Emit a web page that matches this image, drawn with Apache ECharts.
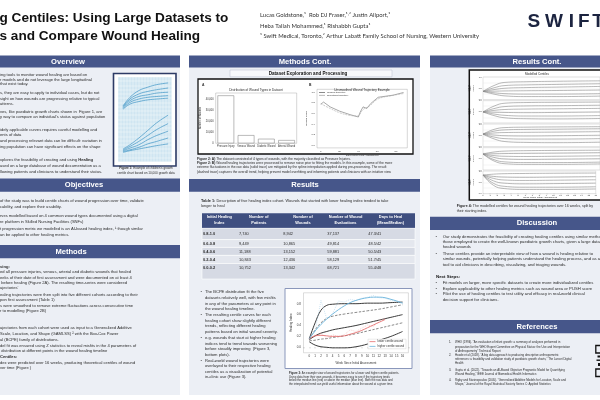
<!DOCTYPE html>
<html><head><meta charset="utf-8">
<script src="https://cdn.jsdelivr.net/npm/echarts@6/dist/echarts.min.js"></script>
<style>html,body{margin:0;padding:0;background:#fff}#c{width:600px;height:400px}</style>
</head><body><div id="c"></div>
<script>
// ---------------- DATA ----------------
// Figure 1 (growth chart example)
const fig1Ages = [1.7, 4, 7, 10, 13, 16.8];
const fig1Upper1 = [66, 76, 84, 88, 91, 93];
const fig1Upper2 = [65, 74, 80, 83, 85, 87];
const fig1Upper3 = [64, 72, 77, 79, 81, 82];
const fig1Upper4 = [63, 70, 74, 76, 77, 78];
const fig1Upper5 = [62, 68, 71, 73, 74, 75];
const fig1Lower1 = [15, 20, 28, 37, 46, 55];
const fig1Lower2 = [14, 18, 24, 31, 38, 45];
const fig1Lower3 = [13, 16, 20, 26, 31, 36];
const fig1Lower4 = [12, 14, 17, 21, 24, 28];
const fig1Lower5 = [11, 13, 15, 17, 19, 21];

// Figure 2A (wound types)
const woundTypes = ['Pressure Injury', 'Venous Wound', 'Diabetic Wound', 'Arterial Wound'];
const woundCounts = [43500, 7400, 4100, 2900];

// Figure 2B (trajectory example)
const trajDays = [0, 3, 10, 20, 31, 40, 42, 45, 49, 53, 61, 77, 88];
const trajOriginal = [0.77, 0.81, 0.72, 0.64, 0.575, 0.53, 0.625, 0.72, 0.69, 0.78, 0.90, 0.94, 0.99];
const trajSmoothDays = [0, 10, 20, 31, 39, 45, 52, 61, 75, 88];
const trajSmoothed = [0.78, 0.69, 0.61, 0.56, 0.55, 0.67, 0.74, 0.87, 0.93, 0.97];

// Table 1
const tblHeaders = ['Initial Healing\nIndex', 'Number of\nPatients', 'Number of\nWounds', 'Number of Wound\nEvaluations', 'Days to Heal\n(Mean/Median)'];
const tblIndex = ['0.8-1.0', '0.6-0.8', '0.4-0.6', '0.2-0.4', '0.0-0.2'];
const tblPatients = ['7,740', '9,449', '11,188', '10,843', '10,752'];
const tblWounds = ['8,942', '10,865', '13,152', '12,436', '13,342'];
const tblEvals = ['37,137', '49,814', '59,881', '58,129', '68,721'];
const tblDays = ['47.3/41', '48.5/42', '50.5/43', '51.7/45', '55.4/48'];

// Figure 3 (example trajectories over centiles)
const fig3Weeks = [0, 1, 2, 3, 4, 6, 8, 10, 12, 14, 16];
const fig3Centile1 = [0.16, 0.45, 0.68, 0.77, 0.79, 0.80, 0.80, 0.81, 0.81, 0.82, 0.83];
const fig3Centile2 = [0.15, 0.32, 0.45, 0.53, 0.57, 0.61, 0.64, 0.67, 0.70, 0.74, 0.78];
const fig3Centile3 = [0.14, 0.21, 0.26, 0.29, 0.32, 0.36, 0.40, 0.45, 0.50, 0.55, 0.60];
const fig3Centile4 = [0.12, 0.13, 0.15, 0.16, 0.18, 0.21, 0.25, 0.30, 0.35, 0.40, 0.45];
const fig3Centile5 = [0.10, 0.04, 0.01, 0.00, -0.01, -0.01, 0.01, 0.06, 0.13, 0.20, 0.29];
const higherWeeks = [0, 1, 2, 3, 4, 5, 6, 7, 8, 9, 10, 11, 12, 13, 14, 15, 16];
const higherSmooth = [0.16, 0.30, 0.42, 0.52, 0.61, 0.69, 0.76, 0.82, 0.86, 0.89, 0.91, 0.92, 0.92, 0.91, 0.88, 0.85, 0.81];
const higherRaw = [0.16, 0.30, 0.86, 0.52, 0.62, 0.85, 0.83, 0.88, 0.86, 0.90, 0.92, 0.95, 0.91, 0.90, 0.86, 0.84, 0.80];
const lowerWeeks = [0, 1, 2, 3, 4, 5, 6, 7, 8, 9, 10, 11, 12, 13];
const lowerSmooth = [0.16, 0.21, 0.22, 0.21, 0.20, 0.20, 0.21, 0.24, 0.27, 0.31, 0.36, 0.41, 0.46, 0.51];
const lowerRaw = [0.16, 0.23, 0.26, 0.165, 0.23, 0.20, 0.23, 0.32, 0.29, 0.35, 0.41, 0.38, 0.50, 0.53];

// Figure 4 (modelled centiles per starting index)
const fig4Weeks = [0, 1.5, 3, 6, 10, 16];
const fig4Cohort1 = [[0.36,0.62,0.76,0.79,0.81,0.83],[0.36,0.52,0.62,0.65,0.67,0.70],[0.36,0.44,0.50,0.53,0.55,0.58],[0.36,0.37,0.38,0.39,0.40,0.42],[0.36,0.30,0.26,0.24,0.24,0.26],[0.36,0.24,0.16,0.13,0.13,0.15]];
const fig4Cohort2 = [[0.49,0.75,0.88,0.91,0.92,0.93],[0.49,0.64,0.73,0.76,0.77,0.79],[0.49,0.56,0.60,0.62,0.63,0.65],[0.49,0.48,0.47,0.46,0.47,0.49],[0.49,0.40,0.34,0.31,0.31,0.33],[0.49,0.33,0.23,0.19,0.18,0.20]];
const fig4Cohort3 = [[0.55,0.76,0.84,0.86,0.87,0.88],[0.55,0.68,0.74,0.76,0.77,0.79],[0.55,0.60,0.62,0.63,0.64,0.66],[0.55,0.51,0.48,0.47,0.48,0.50],[0.55,0.42,0.35,0.33,0.33,0.35],[0.55,0.34,0.22,0.18,0.17,0.19]];
const fig4Cohort4 = [[0.71,0.80,0.84,0.86,0.87,0.88],[0.71,0.72,0.73,0.74,0.75,0.77],[0.71,0.64,0.61,0.60,0.61,0.63],[0.71,0.56,0.49,0.47,0.48,0.50],[0.71,0.46,0.36,0.33,0.33,0.35],[0.71,0.40,0.28,0.25,0.25,0.27]];
const fig4Cohort5 = [[0.82,0.86,0.88,0.89,0.90,0.91],[0.82,0.76,0.73,0.72,0.73,0.75],[0.82,0.67,0.60,0.58,0.59,0.61],[0.82,0.56,0.46,0.43,0.44,0.46],[0.82,0.45,0.32,0.28,0.28,0.30],[0.82,0.36,0.22,0.18,0.18,0.20]];
const fig4Names = ['0.0-0.2', '0.2-0.4', '0.4-0.6', '0.6-0.8', '0.8-1.0'];

// ---------------- TEXT ----------------
const titleLines = ['g Centiles: Using Large Datasets to', 's and Compare Wound Healing'];
const authorLines = ['Lucas Goldstone,\u00b9  Rob DJ Fraser,\u00b9\u02d2\u00b2 Justin Allport,\u00b9', 'Heba Tallah Mohammed,\u00b9 Rishabbh Gupta\u00b9', '\u00b9 Swift Medical, Toronto,\u00b2 Arthur Labatt Family School of Nursing, Western University'];
const overviewText = ['ing tools to monitor wound healing are based on', 'r models and do not leverage the large longitudinal', 'that exist today.', 's, they are easy to apply to individual cases, but do not', 'sight on how wounds are progressing relative to typical', 'atterns.', 'ves, like paediatric growth charts shown in  Figure 1, are', 'y way to compare an individual\u2019s status against population', 'idely applicable curves requires careful modelling and', 'ents of data', 'and processing relevant data can be difficult: variation in', 'ing population can have significant effects on the shape', 'xplores the feasibility of creating and using {b|Healing}', 'ased on a large database of wound documentation as a', 'llowing patients and clinicians to understand their status.'];
const objectivesText = ['of the study was to build centile charts of wound progression over time, validate', 'cability, and explore their usability.', 'rves modelled based on 4 common wound types documented using a digital', 're platform in Skilled Nursing Facilities (SNFs)', 't progression metric we modelled is an AI-based healing index, \u00b9 though similar', 'an be applied to other healing metrics.'];
const methodsText = ['{b|sing:}', 'ed all pressure injuries, venous, arterial and diabetic wounds that healed', 'eeks of their date of first assessment and were documented on at least 4', ' before healing (Figure 2A). The resulting time-series were considered', 'ajectories\u2019', 'ealing trajectories were then split into five different cohorts according to their', 'pon first assessment (Table 1)', 's were smoothed to remove extreme fluctuations across consecutive time', 'r to modelling (Figure 2B)', 'ajectories from each cohort were used as input to a Generalized Additive', 'Scale, Location, and Shape (GAMLSS) \u00b2 with the Box-Cox Power', 'al (BCPE) family of distributions.', 'del fit was ensured using Z statistics to reveal misfits in the 4 parameters of', ' distribution at different points in the wound healing timeline', '{b|Centiles:}', 'dex were predicted over 16 weeks, producing theoretical centiles of wound', 'ver time (Figure )'];
const fig2Caption = ['{b|Figure 2: A)} The dataset consisted of 4 types of wounds, with the majority classified as Pressure Injuries.', '{b|Figure 2: B)} Wound healing trajectories were processed to remove noise prior to fitting the models. In this example, some of the more', 'extreme fluctuations in the raw data (solid trace) are mitigated by the spline interpolation applied during pre-processing. The result', '(dashed trace) captures the overall trend, helping prevent model overfitting and informing patients and clinicians with an intuitive view'];
const tableCaption = ['{b|Table 1:} Description of five healing index cohort. Wounds that started with lower healing index tended to take', 'longer to heal'];
const resultsBullets = [['The BCPE distribution fit the five', 'datasets relatively well, with few misfits', 'in any of the parameters at any point in', 'the wound healing timeline.'], ['The resulting centile curves for each', 'healing cohort show slightly different', 'trends, reflecting different healing', 'patterns based on initial wound severity.'], ['e.g. wounds that start at higher healing', 'indices tend to trend towards worsening', 'before steadily improving  (Figure 3,', 'bottom plots).'], ['Real-world wound trajectories were', 'overlayed to their respective healing', 'centiles as a visualization of potential', 'in-clinic use (Figure 3).']];
const fig3Caption = ['{b|Figure 3:} An example view of wound trajectories for a lower and higher centile patients.', 'Using data from their own wounds, it becomes easy to see if the trajectory tends', 'below the median line (red) or above the median (blue line). Both the raw data and', 'the interpolated trend can yield useful information about the wound at a given time.'];
const fig4Caption = ['{b|Figure 4:} The modelled centiles for wound healing trajectories over 16 weeks, split by', 'their starting index.'];
const discussionBullets = [['Our study demonstrates the feasibility of creating healing centiles using similar methods to', 'those employed to create the well-known paediatric growth charts, given a large dataset of', 'healed wounds'], ['These centiles provide an interpretable view of how a wound is healing relative to', 'similar wounds, potentially helping patients understand the healing process, and as a', 'tool to aid clinicians in describing, visualizing, and triaging wounds.']];
const nextSteps = [['Fit models on larger, more specific datasets to create more individualized centiles'], ['Explore applicability to other healing metrics such as wound area or PUSH score'], ['Pilot the use of healing centiles to test utility and efficacy in real-world clinical', 'decision support for clinicians.']];
const references = [['WHO (1994). \u201cAn evaluation of infant growth: a summary of analyses performed in', 'preparation for the WHO Expert Committee on Physical Status: the Use and Interpretation', 'of Anthropometry\u201d Technical Report'], ['Hoode et al (2018). \u201cA big data approach to producing descriptive anthropometric', 'references: a feasibility and validation study of paediatric growth charts,\u201d The Lancet Digital', 'Health'], ['Gupta et al. (2022). \u201cTowards an AI-Based Objective Prognostic Model for Quantifying', 'Wound Healing,\u201d IEEE Journal of Biomedical Health Informatics'], ['Rigby and Stasinopoulos (2005). \u201cGeneralized Additive Models for Location, Scale and', 'Shape,\u201d Journal of the Royal Statistical Society Series C: Applied Statistics']];

// ---------------- LAYOUT / RENDER ----------------
const SANS = '"Liberation Sans", Arial, Helvetica, sans-serif';
const HEAD = '#46568a';
const PANEL = '#eceff5';
const INK = '#2b2b2b';
const G = [];
function rect(x, y, w, h, fill, o) {
  o = o || {};
  G.push({ type: 'rect', z: o.z !== undefined ? o.z : -10, silent: true, shape: { x, y, width: w, height: h },
    style: { fill: fill || 'none', stroke: o.stroke || null, lineWidth: o.lw || 0 } });
}
function txt(x, y, text, size, o) {
  o = o || {};
  const fam = o.family || SANS;
  const col = o.color || INK;
  const st = { text, fontSize: size, fontFamily: fam, fontWeight: o.bold ? 'bold' : 'normal', fill: col,
    align: o.align || 'left', verticalAlign: 'middle', lineHeight: o.lh || size * 1.2 };
  if (text.indexOf('{b|') >= 0) st.rich = { b: { fontSize: size, fontFamily: fam, fontWeight: 'bold', fill: col } };
  G.push({ type: 'text', x, y, rotation: o.rot || 0, z: 50, silent: true, style: st });
}
function header(x, y, w, h, label, cx) {
  rect(x, y, w, h, HEAD, { z: -9 });
  txt(cx, y + h / 2, label, 7.6, { bold: true, color: '#fff', align: 'center' });
}

// title & authors
txt(-0.5, 18, titleLines[0], 13.6, { bold: true, color: '#111' });
txt(-0.5, 36, titleLines[1], 13.6, { bold: true, color: '#111' });
const authorY = [15, 25.7, 36];
authorLines.forEach((l, i) => txt(260, authorY[i], l, 5.9, { family: 'Lato, "Open Sans", sans-serif', color: '#333' }));
const logoLetters = ['S', 'W', 'I', 'F', 'T'];
const logoX = [533.8, 554, 571.3, 583.8, 598];
logoLetters.forEach((c, i) => txt(logoX[i], 21.5, c, 19, { bold: true, color: '#1c2440', align: 'center' }));

// panels
rect(0, 67, 180, 328, PANEL);
rect(189, 67, 231, 328, PANEL);
rect(430, 67, 175, 328, PANEL);
header(0, 55.5, 180, 12, 'Overview', 68);
header(0, 178.5, 180, 13.3, 'Objectives', 84);
header(0, 245, 180, 13.3, 'Methods', 71);
header(189, 55.5, 231, 12, 'Methods Cont.', 305);
header(189, 179, 231, 12.8, 'Results', 305);
header(430, 55.5, 175, 12, 'Results Cont.', 537);
header(430, 216.7, 175, 13.3, 'Discussion', 537);
header(430, 320, 175, 13.3, 'References', 537);

// left column text
const overviewY = [75, 80, 84.3, 93.3, 99, 104.3, 112.3, 117.3, 130, 135.3, 141, 146.5, 160, 166, 172];
overviewText.forEach((l, i) => txt(0, overviewY[i], l, 4.1));
const objectivesY = [201, 206.5, 216, 222.3, 229.3, 235];
objectivesText.forEach((l, i) => txt(0, objectivesY[i], l, 4.1));
const methodsY = [266.7, 272.3, 277.7, 282.7, 288.3, 295, 300, 306, 311, 328.3, 334.3, 340, 346, 351, 356.7, 362.7, 368.3];
methodsText.forEach((l, i) => txt(0, methodsY[i], l, 4.1));

// Figure 1 box
rect(113.5, 73.5, 62.5, 92.5, '#fff', { stroke: '#2d3b66', lw: 1.6, z: -5 });
txt(146, 168.5, "{b|Figure 1:} Example of children\u2019s growth", 3.1, { align: 'center' });
txt(146, 173, 'centile chart based on 10,000 growth data', 3.1, { align: 'center' });

// middle column: sub header + Figure 2
rect(230, 70, 162, 6.8, '#f7f8fb', { stroke: '#b9bfcf', lw: 0.5, z: -8 });
txt(308, 73.5, 'Dataset Exploration and Processing', 4.6, { bold: true, align: 'center', color: '#111' });
rect(198, 79, 215, 75, '#fff', { stroke: '#111', lw: 1.3, z: -5 });
txt(202, 85, 'A', 3.4, { bold: true });
txt(309, 85, 'B', 3.4, { bold: true });
txt(256, 90.6, 'Distribution of Wound Types in Dataset', 3.1, { align: 'center' });
txt(362, 90.3, 'Unsmoothed Wound Trajectory Example', 3.1, { align: 'center' });
const fig2CapY = [159, 163.3, 167.5, 171.7];
fig2Caption.forEach((l, i) => txt(197, fig2CapY[i], l, 3.3));

// Table 1
const tblCapY = [201, 206];
tableCaption.forEach((l, i) => txt(201, tblCapY[i], l, 3.9));
const colX = [202, 236.7, 281, 325, 366, 415];
const rowY = [228.3, 239.6, 247.4, 255.4, 263.5, 279];
rect(colX[0], 213.3, colX[5] - colX[0], 15, '#3f4f80', { z: -6 });
tblHeaders.forEach((h, j) => {
  const cx = (colX[j] + colX[j + 1]) / 2;
  h.split('\n').forEach((s, k) => txt(cx, 217.4 + k * 5.6, s, 3.9, { bold: true, color: '#fff', align: 'center' }));
});
const tblCols = [tblIndex, tblPatients, tblWounds, tblEvals, tblDays];
tblIndex.forEach((_, r) => {
  const y0 = rowY[r], y1 = rowY[r + 1];
  rect(colX[0], y0, colX[5] - colX[0], y1 - y0, r % 2 === 0 ? '#d6dae4' : '#e4e7ee', { z: -6, stroke: '#ffffff', lw: 0.6 });
  const ty = r === 4 ? y0 + 4.2 : (y0 + y1) / 2 + 0.3;
  tblCols.forEach((col, j) => txt(colX[j] + (j === 0 ? 1 : 2.3), ty, col[r], 3.9, { bold: j === 0 }));
});

// results bullets
let by = 292.3;
resultsBullets.forEach(b => {
  txt(200.5, by, '\u2022', 4.1);
  b.forEach((l, k) => { txt(205, by, l, 4.1); by += 5.55; });
  by += 0.6;
});

// Figure 3 box
rect(285, 288.5, 127, 80, '#fff', { stroke: '#8a97bb', lw: 1, z: -5 });
const fig3CapY = [373.6, 377.1, 380.6, 384.1];
fig3Caption.forEach((l, i) => txt(289, fig3CapY[i], l, 2.85));

// right column: Figure 4
rect(469.3, 70, 140, 130, '#fff', { stroke: '#111', lw: 1.5, z: -5 });
txt(537, 74.6, 'Modelled Centiles', 3, { align: 'center' });
txt(540, 197, 'Week Since Initial Assessment', 2.5, { align: 'center' });
const fig4CapY = [205.8, 210.8];
fig4Caption.forEach((l, i) => txt(456.7, fig4CapY[i], l, 3.6));

// discussion
let dy = 236.7;
discussionBullets.forEach(b => {
  txt(435.5, dy, '\u2022', 4.2);
  b.forEach(l => { txt(442.7, dy, l, 4.2); dy += 5.3; });
  dy += 1.2;
});
txt(436, 276.7, 'Next Steps:', 4.4, { bold: true, color: '#111' });
let ny = 282.7;
nextSteps.forEach(b => {
  txt(435.5, ny, '\u2022', 4.2);
  b.forEach(l => { txt(442.7, ny, l, 4.2); ny += 5.7; });
});

// references
const refY = [342.7, 355.3, 370, 380];
references.forEach((r, i) => {
  txt(449, refY[i], (i + 1) + '.', 2.9);
  r.forEach((l, k) => txt(455, refY[i] + k * 4.1, l, 2.9));
});
// QR code fragment
rect(595.8, 345.5, 6, 7.5, 'none', { stroke: '#111', lw: 1.3, z: 5 });
rect(595.8, 369, 6, 7.5, 'none', { stroke: '#111', lw: 1.3, z: 5 });
rect(597.5, 355.5, 3, 2, '#111', { z: 5 });
rect(596.5, 359.5, 4, 1.4, '#111', { z: 5 });
rect(598, 363, 2.5, 3, '#111', { z: 5 });

// ---------------- CHARTS ----------------
const tiny = (s) => ({ fontSize: s, color: '#333', fontFamily: SANS });
const grids = [], xAxes = [], yAxes = [], series = [];
function pairs(xs, ys) { return xs.map((x, i) => [x, ys[i]]); }

// grid 0: Figure 1
grids.push({ left: 118, top: 77, width: 53.7, height: 84.7, show: true, backgroundColor: '#cfe5f1', borderWidth: 0 });
xAxes.push({ gridIndex: 0, type: 'value', min: 0, max: 18, interval: 1, axisLabel: { show: false }, axisTick: { show: false }, axisLine: { show: false }, splitLine: { lineStyle: { color: '#ffffff', width: 0.4 } } });
yAxes.push({ gridIndex: 0, type: 'value', min: 0, max: 100, interval: 5, axisLabel: { show: false }, axisTick: { show: false }, axisLine: { show: false }, splitLine: { lineStyle: { color: '#ffffff', width: 0.4 } } });
[fig1Upper1, fig1Upper2, fig1Upper3, fig1Upper4, fig1Upper5, fig1Lower1, fig1Lower2, fig1Lower3, fig1Lower4, fig1Lower5].forEach(arr => {
  series.push({ type: 'line', xAxisIndex: 0, yAxisIndex: 0, data: pairs(fig1Ages, arr), smooth: 0.4, showSymbol: false, lineStyle: { color: '#3d93c4', width: 0.7 } });
});

// grid 1: Figure 2A
grids.push({ left: 215.7, top: 93, width: 81, height: 50.3, show: true, borderColor: '#999', borderWidth: 0.4 });
xAxes.push({ gridIndex: 1, type: 'category', data: woundTypes, axisLabel: Object.assign({ interval: 0, margin: 1.6 }, tiny(2.6)), axisTick: { show: false }, axisLine: { show: false } });
yAxes.push({ gridIndex: 1, type: 'value', min: 0, max: 45700, interval: 10000, axisLabel: Object.assign({ margin: 2, showMaxLabel: false }, tiny(2.6)), axisTick: { show: false }, axisLine: { show: false }, splitLine: { show: false },
  name: 'Number of Wounds', nameLocation: 'middle', nameRotate: 90, nameGap: 11, nameTextStyle: tiny(2.6) });
series.push({ type: 'bar', xAxisIndex: 1, yAxisIndex: 1, data: woundCounts, barCategoryGap: '18%', itemStyle: { color: '#ffffff', borderColor: '#777', borderWidth: 0.5 } });

// grid 2: Figure 2B
grids.push({ left: 317, top: 89.3, width: 90.3, height: 58.6, show: true, borderColor: '#999', borderWidth: 0.4 });
xAxes.push({ gridIndex: 2, type: 'value', min: -4, max: 92, interval: 4, axisTick: { show: false }, axisLine: { show: false }, splitLine: { show: false },
  axisLabel: Object.assign({ margin: 1.5, formatter: v => (v >= 0 && v <= 80 && Math.round(v) % 20 === 0) ? String(Math.round(v)) : '' }, tiny(2.5)),
  name: 'Days Since First Assessment', nameLocation: 'middle', nameGap: 5.5, nameTextStyle: tiny(2.5) });
yAxes.push({ gridIndex: 2, type: 'value', min: -0.05, max: 1.05, interval: 0.05, axisTick: { show: false }, axisLine: { show: false }, splitLine: { show: false },
  axisLabel: Object.assign({ margin: 2, formatter: v => { const r = Math.round(v * 100); return (r >= 0 && r <= 100 && r % 20 === 0) ? (r / 100).toFixed(1) : ''; } }, tiny(2.5)),
  name: 'Healing Index', nameLocation: 'middle', nameRotate: 90, nameGap: 6, nameTextStyle: tiny(2.5) });
series.push({ type: 'line', name: 'Original trajectory', xAxisIndex: 2, yAxisIndex: 2, data: pairs(trajDays, trajOriginal), showSymbol: false, lineStyle: { color: '#6f6f6f', width: 0.6 }, itemStyle: { color: '#6f6f6f' } });
series.push({ type: 'line', name: 'Smoothed trajectory', xAxisIndex: 2, yAxisIndex: 2, data: pairs(trajSmoothDays, trajSmoothed), smooth: 0.4, showSymbol: false, lineStyle: { color: '#a9a9a9', width: 0.6, type: [2, 1] }, itemStyle: { color: '#a9a9a9' } });

// grid 3: Figure 3
grids.push({ left: 303.5, top: 292.8, width: 104.9, height: 59.95, show: true, borderColor: '#aaa', borderWidth: 0.4 });
xAxes.push({ gridIndex: 3, type: 'value', min: -1, max: 17, interval: 1, axisLine: { show: false }, splitLine: { show: false },
  axisTick: { show: true, length: 1, lineStyle: { color: '#555', width: 0.4 }, },
  axisLabel: Object.assign({ margin: 2, formatter: v => (v >= 0 && v <= 16) ? String(Math.round(v)) : '' }, tiny(3)),
  name: 'Week Since Initial Assessment', nameLocation: 'middle', nameGap: 8.5, nameTextStyle: tiny(3) });
yAxes.push({ gridIndex: 3, type: 'value', min: -0.1, max: 1.0, interval: 0.1, axisLine: { show: false }, splitLine: { show: false }, axisTick: { show: false },
  axisLabel: Object.assign({ margin: 2.5, formatter: v => { const r = Math.round(v * 100); return (r >= 0 && r <= 80 && r % 20 === 0) ? (r / 100).toFixed(1) : ''; } }, tiny(3)),
  name: 'Healing Index', nameLocation: 'middle', nameRotate: 90, nameGap: 10, nameTextStyle: tiny(3) });
const c3styles = [['#3b3b3b', 'solid', 1], ['#555', [2.5, 1.5], 0.7], ['#3b3b3b', 'solid', 1], ['#555', [2.5, 1.5], 0.7], ['#3b3b3b', 'solid', 1]];
[fig3Centile1, fig3Centile2, fig3Centile3, fig3Centile4, fig3Centile5].forEach((arr, i) => {
  series.push({ type: 'line', xAxisIndex: 3, yAxisIndex: 3, data: pairs(fig3Weeks, arr), smooth: 0.4, showSymbol: false, lineStyle: { color: c3styles[i][0], type: c3styles[i][1], width: c3styles[i][2] } });
});
series.push({ type: 'line', name: 'higher raw', xAxisIndex: 3, yAxisIndex: 3, data: pairs(higherWeeks, higherRaw), showSymbol: false, lineStyle: { color: '#9fcbe6', width: 0.5, type: [1, 1] } });
series.push({ type: 'line', name: 'lower raw', xAxisIndex: 3, yAxisIndex: 3, data: pairs(lowerWeeks, lowerRaw), showSymbol: false, lineStyle: { color: '#f1a3a3', width: 0.5, type: [1, 1] } });
series.push({ type: 'line', name: 'lower centile wound', xAxisIndex: 3, yAxisIndex: 3, data: pairs(lowerWeeks, lowerSmooth), smooth: 0.4, showSymbol: false, lineStyle: { color: '#e56f6f', width: 0.9 }, itemStyle: { color: '#e56f6f' } });
series.push({ type: 'line', name: 'higher centile wound', xAxisIndex: 3, yAxisIndex: 3, data: pairs(higherWeeks, higherSmooth), smooth: 0.4, showSymbol: false, lineStyle: { color: '#69b3dc', width: 0.9 }, itemStyle: { color: '#69b3dc' } });

// grids 4-8: Figure 4
const fig4Cohorts = [fig4Cohort1, fig4Cohort2, fig4Cohort3, fig4Cohort4, fig4Cohort5];
const fig4Tops = [77, 100.5, 124, 147.5, 171];
fig4Cohorts.forEach((coh, k) => {
  const gi = 4 + k;
  const last = k === 4;
  grids.push({ left: 483, top: fig4Tops[k], width: 133, height: 22.5, show: true, borderColor: '#bbb', borderWidth: 0.4 });
  xAxes.push({ gridIndex: gi, type: 'value', min: 0, max: 16, interval: 1, axisLine: { show: false }, splitLine: { show: false },
    axisTick: { show: last, length: 1, lineStyle: { color: '#777', width: 0.3 } },
    axisLabel: Object.assign({ show: last, margin: 1.2 }, tiny(2.3)) });
  yAxes.push({ gridIndex: gi, type: 'value', min: 0, max: 1, interval: 0.25, axisLine: { show: false }, axisTick: { show: false },
    splitLine: { lineStyle: { color: '#e2e2e2', width: 0.4 } },
    axisLabel: Object.assign({ margin: 1.3, formatter: v => (Math.round(v * 100) % 50 === 0) ? v.toFixed(1) : '' }, tiny(2.2)),
    name: 'Healing\nIndex\n' + fig4Names[4 - k], nameLocation: 'middle', nameRotate: 90, nameGap: 5.5, nameTextStyle: Object.assign({ lineHeight: 2.6 }, tiny(2.1)) });
  coh.forEach(arr => {
    series.push({ type: 'line', xAxisIndex: gi, yAxisIndex: gi, data: pairs(fig4Weeks, arr), smooth: 0.45, showSymbol: false, lineStyle: { color: '#8a8a8a', width: 0.6 } });
  });
});

const chart = echarts.init(document.getElementById('c'), null, { renderer: 'canvas', width: 600, height: 400 });
chart.setOption({
  animation: false,
  backgroundColor: '#ffffff',
  grid: grids, xAxis: xAxes, yAxis: yAxes, series,
  legend: [
    { data: ['Original trajectory', 'Smoothed trajectory'], orient: 'vertical', left: 319, top: 91.5, itemWidth: 6, itemHeight: 0.8, itemGap: 0.8, icon: 'rect', padding: 0, selectedMode: false, textStyle: Object.assign({ padding: [0, 0, 0, -3] }, tiny(2.4)) },
    { data: ['lower centile wound', 'higher centile wound'], orient: 'vertical', left: 368, top: 339.2, itemWidth: 6, itemHeight: 0.8, itemGap: 1.6, icon: 'rect', padding: [1, 2, 1, 1.5], backgroundColor: '#fff', borderColor: '#ccc', borderWidth: 0.4, selectedMode: false, textStyle: Object.assign({ padding: [0, 0, 0, -3] }, tiny(2.9)) }
  ],
  graphic: { elements: G }
});
</script>
</body></html>
